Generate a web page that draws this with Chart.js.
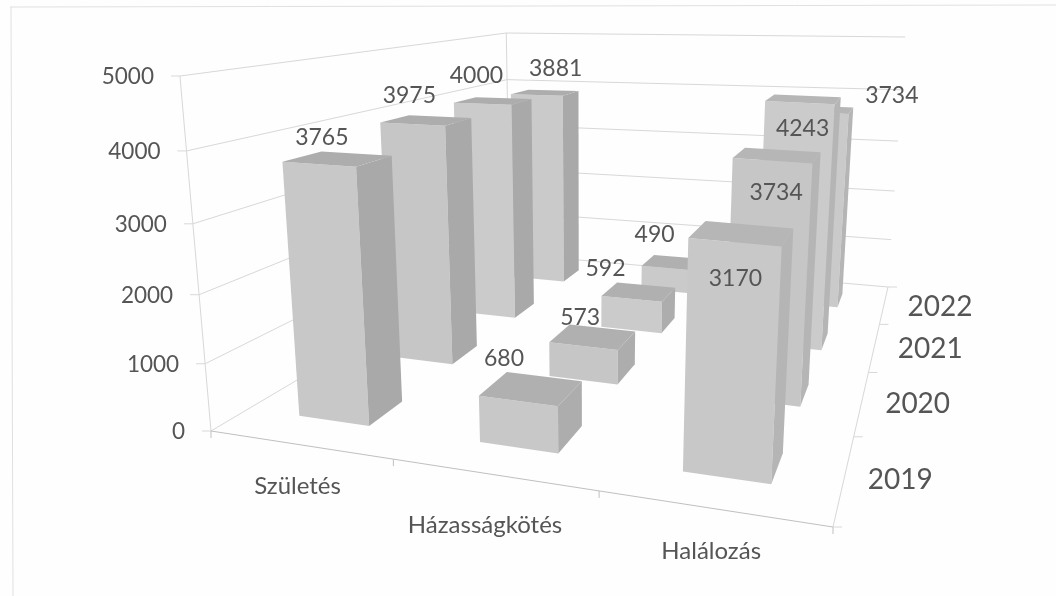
<!DOCTYPE html>
<html>
<head>
<meta charset="utf-8">
<title>Születés, házasságkötés, halálozás</title>
<script src="https://cdn.jsdelivr.net/npm/chart.js@4"></script>
<style>
  html, body { margin: 0; padding: 0; background: #fefefe; }
  canvas { display: block; filter: blur(0.5px); }
</style>
</head>
<body>
<canvas id="myChart" width="1056" height="596"></canvas>
<script>
const categories = ['Születés', 'Házasságkötés', 'Halálozás'];
const years = ['2019', '2020', '2021', '2022'];
const values2019 = [3765, 680, 3170];
const values2020 = [3975, 573, 3734];
const values2021 = [4000, 592, 4243];
const values2022 = [3881, 490, 3734];
const yTicks = [0, 1000, 2000, 3000, 4000, 5000];

const textColor = '#555555';
const gridColor = '#d8d8d8';
const edgeColor = '#c0c0c0';
const sideColors = ['#a9a9a9', '#adadad', '#b5b5b5'];
const topColors = ['#adadad', '#b0b0b0', '#b6b6b6'];
const frontColors = ['#c8c8c8', '#c6c6c6', '#cbcbcb', '#cacaca'];
const uiFont = 'Lato, "Noto Sans", sans-serif';

// floor of the plot box on screen, wall heights at its corners, point where verticals meet
const floorQuad = [[211, 431], [833, 527], [888, 287], [510, 254]];
const wallHeights = [355, 412, 250, 221];
const vanish = [585, 4707];
const boxDepth = 0.36;

// pixel nudges of the value labels from the top of each box [year][category]
const labelNudge = [
  [[3, -27], [-14, -42], [1, 36]],
  [[-3, -28], [-3, -29], [4, 32]],
  [[-6, -28], [-26, -30], [3, 26]],
  [[19, -26], [-14, -34], [74, -17]]
];
const categoryNudge = [[4, -1], [-2, 8], [5, 0]];

function quadMap(q) {
  const [x0, y0] = q[0], [x1, y1] = q[1], [x2, y2] = q[2], [x3, y3] = q[3];
  const dx1 = x1 - x2, dx2 = x3 - x2, sx = x0 - x1 + x2 - x3;
  const dy1 = y1 - y2, dy2 = y3 - y2, sy = y0 - y1 + y2 - y3;
  const den = dx1 * dy2 - dx2 * dy1;
  const g = (sx * dy2 - dx2 * sy) / den;
  const h = (dx1 * sy - sx * dy1) / den;
  const a = x1 - x0 + g * x1, b = x3 - x0 + h * x3;
  const d = y1 - y0 + g * y1, e = y3 - y0 + h * y3;
  return function (u, v) {
    const w = g * u + h * v + 1;
    return [(a * u + b * v + x0) / w, (d * u + e * v + y0) / w];
  };
}

const floorAt = quadMap(floorQuad);

// u along categories, v along years, w along values, all 0..1
function project(u, v, w) {
  const f = w / (1.07 - 0.07 * w);
  const p = floorAt(u, v), a = floorAt(u, 0), b = floorAt(u, 1);
  const t = (a[1] - p[1]) / (a[1] - b[1]);
  const front = wallHeights[0] + (wallHeights[1] - wallHeights[0]) * u;
  const back = wallHeights[3] + (wallHeights[2] - wallHeights[3]) * u;
  const h = (front + (back - front) * t) * f;
  const lean = (p[0] - vanish[0]) / (p[1] - vanish[1]);
  return [p[0] - lean * h, p[1] - h];
}

function poly(ctx, pts, fill) {
  ctx.beginPath();
  ctx.moveTo(pts[0][0], pts[0][1]);
  for (let i = 1; i < pts.length; i++) ctx.lineTo(pts[i][0], pts[i][1]);
  ctx.closePath();
  ctx.fillStyle = fill;
  ctx.fill();
}

function segment(ctx, a, b, color) {
  ctx.beginPath();
  ctx.moveTo(a[0], a[1]);
  ctx.lineTo(b[0], b[1]);
  ctx.strokeStyle = color;
  ctx.lineWidth = 1;
  ctx.stroke();
}

function label(ctx, text, x, y, size, align) {
  ctx.font = size + 'px ' + uiFont;
  ctx.fillStyle = textColor;
  ctx.textAlign = align || 'center';
  ctx.textBaseline = 'middle';
  ctx.fillText(text, x, y);
}

const box3d = {
  id: 'box3d',
  beforeDraw(chart) {
    const ctx = chart.ctx;
    ctx.save();
    ctx.fillStyle = '#fefefe';
    ctx.fillRect(0, 0, chart.width, chart.height);
    segment(ctx, [10, 7], [1056, 5], '#e0e0e0');
    segment(ctx, [11, 7], [13, 596], '#e0e0e0');
    ctx.restore();
  },
  beforeDatasetsDraw(chart) {
    const ctx = chart.ctx;
    const x = chart.scales.x, y = chart.scales.y, depth = chart.scales.depth;
    ctx.save();

    // walls and value ticks
    y.ticks.forEach(t => {
      const w = y.getDecimalForPixel(y.getPixelForValue(t.value));
      const left = project(0, 0, w), back = project(0, 1, w), right = project(1, 1, w);
      segment(ctx, left, back, gridColor);
      segment(ctx, back, right, gridColor);
      segment(ctx, left, [left[0] - 9, left[1]], gridColor);
      label(ctx, String(t.value), left[0] - 26, left[1] + 1, 22.5, 'right');
    });
    segment(ctx, project(0, 0, 0), project(0, 0, 1), gridColor);
    segment(ctx, project(0, 1, 0), project(0, 1, 1), gridColor);

    // floor edges, category and year ticks
    segment(ctx, project(0, 0, 0), project(1, 0, 0), edgeColor);
    segment(ctx, project(1, 0, 0), project(1, 1, 0), gridColor);
    for (let i = 0; i <= categories.length; i++) {
      const p = project(i / categories.length, 0, 0);
      segment(ctx, p, [p[0], p[1] + 7], edgeColor);
    }
    for (let i = 0; i <= years.length; i++) {
      const p = project(1, i / years.length, 0);
      segment(ctx, p, [p[0] + 9, p[1]], gridColor);
    }
    x.ticks.forEach((t, i) => {
      const p = project(x.getDecimalForPixel(x.getPixelForTick(i)), 0, 0);
      label(ctx, t.label, p[0] - 6 + categoryNudge[i][0], p[1] + 43 + categoryNudge[i][1], 24);
    });
    depth.ticks.forEach((t, i) => {
      const p = project(1, depth.getDecimalForPixel(depth.getPixelForTick(i)), 0);
      label(ctx, t.label, p[0] + 56, p[1] + 2, 28);
    });

    // boxes from the back row to the front, taken from the bar elements
    const tops = [];
    for (let d = years.length - 1; d >= 0; d--) {
      const meta = chart.getDatasetMeta(d);
      const v = depth.getDecimalForPixel(depth.getPixelForValue(d));
      const halfV = boxDepth / years.length / 2;
      meta.data.forEach((bar, i) => {
        const u = x.getDecimalForPixel(bar.x);
        const halfU = bar.width / x.width / 2;
        const w = y.getDecimalForPixel(bar.y);
        const u0 = u - halfU, u1 = u + halfU, v0 = v - halfV, v1 = v + halfV;
        poly(ctx, [project(u0, v0, 0), project(u1, v0, 0), project(u1, v0, w), project(u0, v0, w)], chart.data.datasets[d].backgroundColor);
        poly(ctx, [project(u1, v0, 0), project(u1, v1, 0), project(u1, v1, w), project(u1, v0, w)], sideColors[i]);
        poly(ctx, [project(u0, v0, w), project(u1, v0, w), project(u1, v1, w), project(u0, v1, w)], topColors[i]);
        const a = project(u, v0, w);
        const n = labelNudge[d][i];
        tops.push([chart.data.datasets[d].data[i], a[0] + n[0], a[1] + n[1]]);
      });
    }
    tops.forEach(t => label(ctx, String(t[0]), t[1], t[2], 23));
    ctx.restore();
    return false;
  }
};

new Chart(document.getElementById('myChart'), {
  type: 'bar',
  data: {
    labels: categories,
    datasets: [
      { label: years[0], data: values2019, backgroundColor: frontColors[0] },
      { label: years[1], data: values2020, backgroundColor: frontColors[1] },
      { label: years[2], data: values2021, backgroundColor: frontColors[2] },
      { label: years[3], data: values2022, backgroundColor: frontColors[3] }
    ]
  },
  options: {
    responsive: false,
    animation: false,
    events: [],
    grouped: false,
    barPercentage: 0.4,
    categoryPercentage: 1,
    plugins: { legend: { display: false }, tooltip: { enabled: false } },
    scales: {
      x: { display: false },
      y: {
        display: false,
        min: yTicks[0],
        max: yTicks[yTicks.length - 1],
        ticks: { stepSize: 1000 }
      },
      depth: { axis: 'y', type: 'category', labels: years, display: false, offset: true }
    }
  },
  plugins: [box3d]
});
</script>
</body>
</html>
